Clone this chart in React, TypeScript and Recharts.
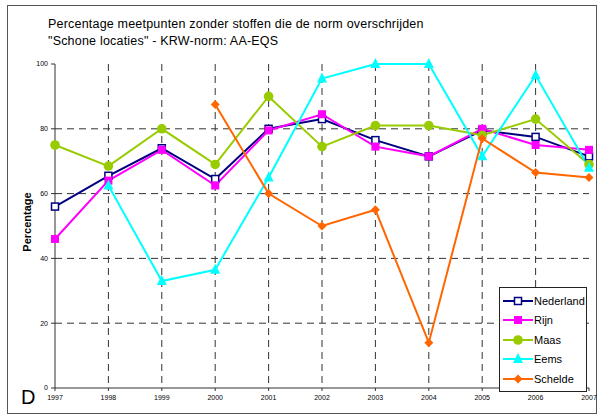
import React from "react";
import {
  LineChart,
  Line,
  XAxis,
  YAxis,
  CartesianGrid,
} from "recharts";

const years = [1997, 1998, 1999, 2000, 2001, 2002, 2003, 2004, 2005, 2006, 2007];

const nederland = [56, 65.5, 74, 64.5, 80, 83, 76.5, 71.5, 79.5, 77.5, 71.5];
const rijn = [46, 64, 73.5, 62.5, 79.5, 84.5, 74.5, 71.5, 80, 75, 73.5];
const maas = [75, 68.5, 80, 69, 90, 74.5, 81, 81, 78, 83, 69];
const eems = [null, 62.5, 33, 36.5, 65, 95.5, 100, 100, 71.5, 96.5, 68];
const schelde = [null, null, null, 87.5, 60, 50, 55, 14, 77, 66.5, 65];

const yTicks = [0, 20, 40, 60, 80, 100];

const SERIES = [
  { key: "nederland", name: "Nederland", color: "#000080", shape: "openSquare" },
  { key: "rijn", name: "Rijn", color: "#ff00ff", shape: "square" },
  { key: "maas", name: "Maas", color: "#99cc00", shape: "circle" },
  { key: "eems", name: "Eems", color: "#00ffff", shape: "triangle" },
  { key: "schelde", name: "Schelde", color: "#ff6600", shape: "diamond" },
];

const data = years.map((year, i) => ({
  year,
  nederland: nederland[i],
  rijn: rijn[i],
  maas: maas[i],
  eems: eems[i],
  schelde: schelde[i],
}));

const FONT = "Liberation Sans, Arial, sans-serif";

function Marker({ shape, color, cx, cy }: { shape: string; color: string; cx: number; cy: number }) {
  if (cx == null || cy == null || isNaN(cx) || isNaN(cy)) return null;
  switch (shape) {
    case "openSquare":
      return <rect x={cx - 3.5} y={cy - 3.5} width={7} height={7} fill="#fff" stroke={color} strokeWidth={1.5} />;
    case "square":
      return <rect x={cx - 4} y={cy - 4} width={8} height={8} fill={color} />;
    case "circle":
      return <circle cx={cx} cy={cy} r={4.8} fill={color} />;
    case "triangle":
      return <polygon points={`${cx},${cy - 6} ${cx + 5},${cy + 4} ${cx - 5},${cy + 4}`} fill={color} />;
    case "diamond":
      return <polygon points={`${cx},${cy - 4.5} ${cx + 4.5},${cy} ${cx},${cy + 4.5} ${cx - 4.5},${cy}`} fill={color} />;
    default:
      return null;
  }
}

function LegendBox() {
  return (
    <div
      style={{
        position: "absolute",
        left: 499,
        top: 287,
        border: "1px solid #222",
        background: "#fff",
        width: 86,
        padding: "3px 0 2px 0",
        fontFamily: FONT,
        fontSize: 11,
        color: "#000",
      }}
    >
      {SERIES.map((s) => (
        <div key={s.key} style={{ display: "flex", alignItems: "center", height: 19.5 }}>
          <svg width={34} height={12} style={{ marginLeft: 3 }}>
            <line x1={0} y1={6} x2={30} y2={6} stroke={s.color} strokeWidth={2} />
            <Marker shape={s.shape} color={s.color} cx={15} cy={6} />
          </svg>
          <span style={{ marginLeft: -3 }}>{s.name}</span>
        </div>
      ))}
    </div>
  );
}

export default function App() {
  return (
    <div style={{ position: "absolute", left: 0, top: 0, width: 601, height: 416, background: "#fff" }}>
      <div
        style={{
          position: "absolute",
          left: 7,
          top: 5,
          width: 590,
          height: 409,
          border: "1px solid #555",
          boxSizing: "border-box",
        }}
      />
      <div
        style={{
          position: "absolute",
          left: 48,
          top: 16,
          fontFamily: FONT,
          fontSize: 12.5,
          lineHeight: "17px",
          letterSpacing: 0.2,
          color: "#000",
          whiteSpace: "nowrap",
        }}
      >
        <div>Percentage meetpunten zonder stoffen die de norm overschrijden</div>
        <div>"Schone locaties" - KRW-norm: AA-EQS</div>
      </div>
      <div
        style={{
          position: "absolute",
          left: 21,
          top: 386,
          fontFamily: FONT,
          fontSize: 20,
          color: "#000",
        }}
      >
        D
      </div>
      <div
        style={{
          position: "absolute",
          left: 27,
          top: 222,
          transform: "translate(-50%, -50%) rotate(-90deg)",
          fontFamily: FONT,
          fontSize: 11,
          fontWeight: "bold",
          color: "#000",
          whiteSpace: "nowrap",
        }}
      >
        Percentage
      </div>
      <div style={{ position: "absolute", left: 0, top: 0 }}>
        <LineChart
          width={601}
          height={416}
          data={data}
          margin={{ top: 64, right: 12, bottom: 8, left: 20 }}
        >
          <CartesianGrid
            stroke="#333"
            strokeDasharray="7 5"
            horizontalValues={[20, 40, 60, 80]}
            verticalValues={[1998, 1999, 2000, 2001, 2002, 2003, 2004, 2005, 2006]}
          />
          <XAxis
            dataKey="year"
            type="number"
            domain={[1997, 2007]}
            ticks={years}
            height={20}
            tick={{ fontSize: 7, fill: "#000", fontFamily: FONT }}
            tickSize={3}
            tickMargin={4}
            stroke="#333"
          />
          <YAxis
            domain={[0, 100]}
            ticks={yTicks}
            width={35}
            tick={{ fontSize: 7, fill: "#000", fontFamily: FONT }}
            tickSize={4}
            tickMargin={3}
            stroke="#333"
          />
          <YAxis yAxisId="r" orientation="right" width={0} domain={[0, 100]} tick={false} stroke="#333" />
          <XAxis xAxisId="t" orientation="top" dataKey="year" type="number" domain={[1997, 2007]} height={0} tick={false} stroke="#333" />
          {SERIES.map((s) => (
            <Line
              key={s.key}
              type="linear"
              dataKey={s.key}
              name={s.name}
              stroke={s.color}
              strokeWidth={2}
              connectNulls={false}
              isAnimationActive={false}
              dot={(p: any) => <Marker key={`${s.key}-${p.index}`} shape={s.shape} color={s.color} cx={p.cx} cy={p.cy} />}
              activeDot={false}
            />
          ))}
        </LineChart>
      </div>
      <LegendBox />
    </div>
  );
}
